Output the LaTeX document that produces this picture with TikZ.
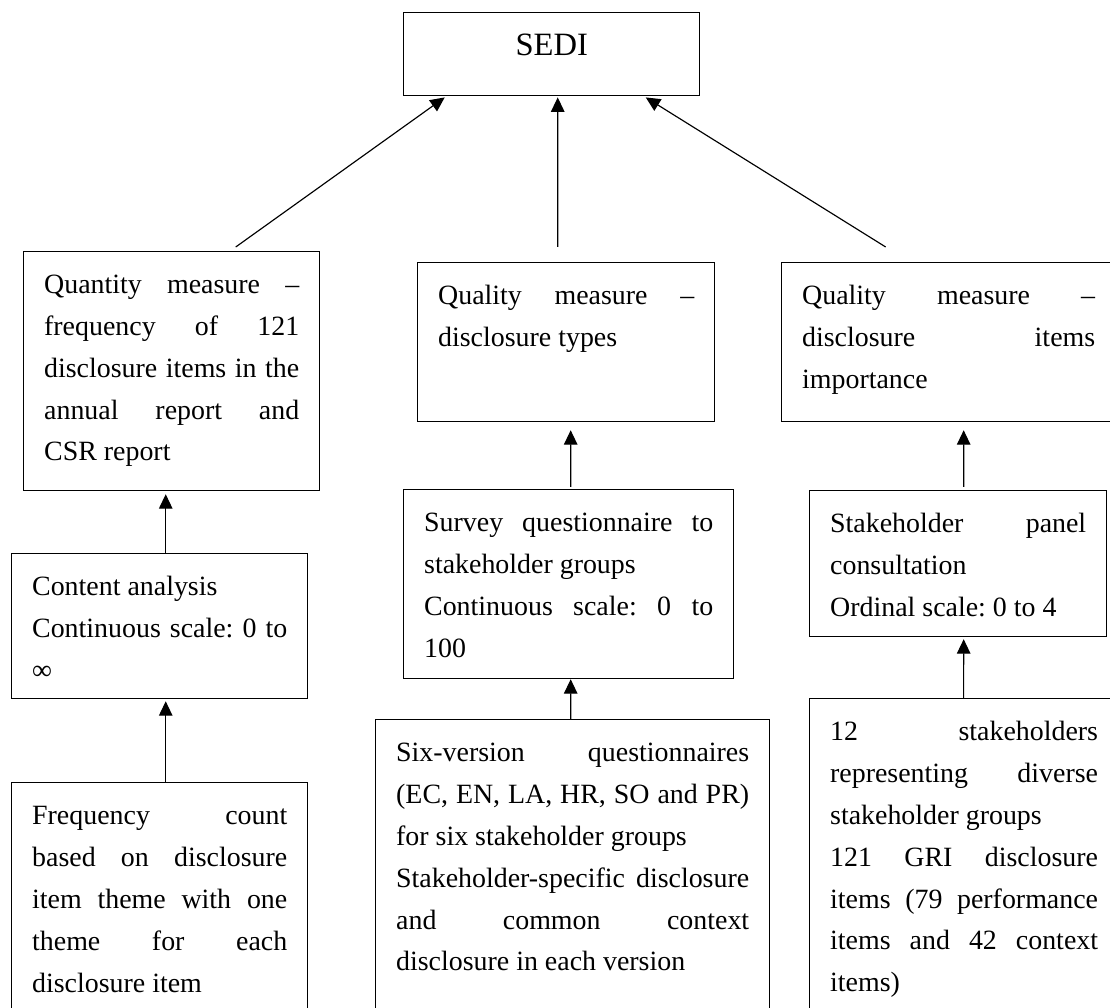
\documentclass[tikz,border=0pt]{standalone}
\usepackage{fontspec}
\setmainfont{Liberation Serif}
\usetikzlibrary{arrows.meta, positioning, calc}
\tolerance=10000
\hbadness=10000
\hyphenpenalty=10000
\frenchspacing

\begin{document}
\begin{tikzpicture}[x=0.43pt, y=-0.43pt,
    box/.style 2 args={draw, line width=0.6pt, anchor=north west, align=justify,
      inner xsep=8.8pt, inner ysep=0pt, text width=#1, text height=18pt, text depth=#2,
      font=\fontsize{12}{18}\selectfont},
    link/.style={-{Triangle[length=6.2pt, width=5.8pt]}, line width=0.5pt}]
  \useasboundingbox (0,0) rectangle (1110,1008);
  \clip (0,0) rectangle (1110,1008);

  % index and the three measures
  \node[box={109.7pt}{17.2pt}, align=center, text height=18.5pt,
        font=\fontsize{14}{16.8}\selectfont] (sedi) at (403,12) {SEDI};
  \node[box={109.7pt}{84.7pt}] (qty) at (23,251)
    {Quantity measure –\linebreak frequency of 121\linebreak disclosure items in the\linebreak annual report and\linebreak CSR report};
  \node[box={110.1pt}{50.3pt}] (types) at (417,262)
    {Quality measure –\linebreak disclosure types};
  \node[box={126pt}{50.3pt}] (imp) at (781,262)
    {Quality measure –\linebreak disclosure items\linebreak importance};

  % methods
  \node[box={109.7pt}{44.3pt}] (cont) at (11,553)
    {Content analysis\\ Continuous scale: 0 to\linebreak ∞};
  \node[box={124.3pt}{63.2pt}] (surv) at (403,489)
    {Survey questionnaire to\linebreak stakeholder groups\\ Continuous scale: 0 to\linebreak 100};
  \node[box={110.1pt}{44.7pt}] (panel) at (809,490)
    {Stakeholder panel\linebreak consultation\\ Ordinal scale: 0 to 4};

  % instruments
  \node[box={109.7pt}{93.7pt}] (freq) at (11,782)
    {Frequency count\linebreak based on disclosure\linebreak item theme with one\linebreak theme for each\linebreak disclosure item};
  \node[box={151.8pt}{115.7pt}] (six) at (375,719)
    {Six-version questionnaires\linebreak (EC, EN, LA, HR, SO and PR)\linebreak for six stakeholder groups\\ Stakeholder-specific disclosure\linebreak and common context\linebreak disclosure in each version};
  \node[box={115.2pt}{123.8pt}] (stake) at (809,698)
    {12 stakeholders\linebreak representing diverse\linebreak stakeholder groups\\ 121 GRI disclosure\linebreak items (79 performance\linebreak items and 42 context\linebreak items)};

  % arrows
  \draw[link] ($(qty.north)+(64,-4)$) -- ($(sedi.south)+(-107,1)$);
  \draw[link] ($(types.north)+(-8.5,-15)$) -- ($(sedi.south)+(6,1)$);
  \draw[link] ($(imp.north)+(-63,-15)$) -- ($(sedi.south)+(94,1)$);
  \draw[link] ($(cont.north)+(6,0)$) -- ($(qty.south)+(-6,3)$);
  \draw[link] ($(freq.north)+(6,0)$) -- ($(cont.south)+(6,2)$);
  \draw[link] ($(surv.north)+(2,-2)$) -- ($(types.south)+(4.5,8)$);
  \draw[link] ($(six.north)+(-2,0)$) -- ($(surv.south)+(2,0)$);
  \draw[link] ($(panel.north)+(5.5,-3)$) -- ($(imp.south)+(15,8)$);
  \draw[link] ($(stake.north)+(-0.5,0)$) -- ($(panel.south)+(5.5,2)$);
\end{tikzpicture}
\end{document}
